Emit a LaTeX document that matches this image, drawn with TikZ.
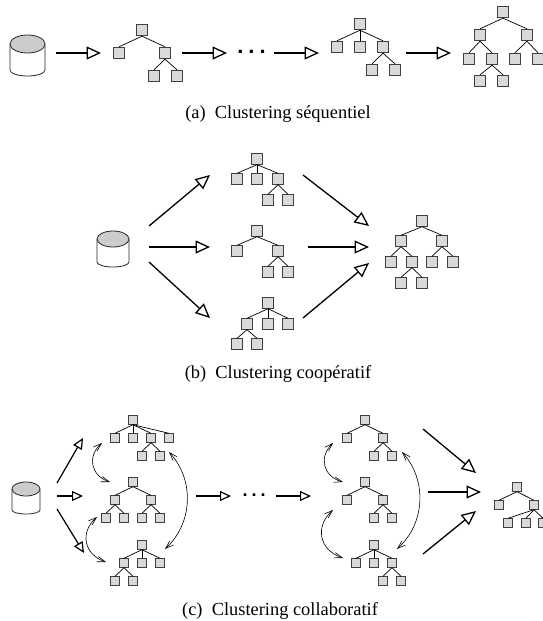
\documentclass[tikz,border=0pt]{standalone}
\usepackage{fontspec}
\setmainfont{Liberation Serif}
\newfontfamily\dotfont{Liberation Sans}
\usetikzlibrary{arrows.meta}
\tikzset{
	drum/.style={draw=black!85, line width=0.8pt},
	boxa/.style={rectangle, draw=black!75, fill=black!15, line width=0.9pt, inner sep=0pt, minimum size=11.5pt},
	boxb/.style={boxa, minimum size=10.5pt},
	boxc/.style={boxa, minimum size=8.5pt},
	branch/.style={line width=0.7pt},
	flow/.style={-{Triangle[open, fill=white, length=14.5pt, width=13pt, line width=1.3pt]}, line width=1.3pt},
	flowc/.style={-{Triangle[open, fill=white, length=11pt, width=10pt, line width=1.2pt]}, line width=1.2pt},
	link/.style={{Straight Barb[length=8pt, width=5.5pt]}-{Straight Barb[length=8pt, width=5.5pt]}, line width=0.6pt},
	caption/.style={font=\fontsize{18.4}{20}\selectfont, anchor=base}
}
\begin{document}
\begin{tikzpicture}[x=1pt, y=-1pt]
	\useasboundingbox (0,0) rectangle (543,621);
	\clip (0,0) rectangle (543,621);
	% the three data bases
	\foreach \n/\x/\y/\rx/\ry/\h/\b in {baseA/27.5/44/17.5/9/26/6, baseB/113/239/16/8/23/5, baseC/26/489/14/7/21/4}{
		\coordinate (\n) at (\x,\y);
		\draw [drum, fill=white] ({\x-\rx},\y) -- ++(0,\h) arc[start angle=180, end angle=0, x radius=\rx, y radius=\b] -- ({\x+\rx},\y);
		\draw [drum, fill=black!20] (\n) ellipse[x radius=\rx, y radius=\ry];
	}
	% (a) sequentiel
	\foreach \n/\x/\y in {a11/142/30, a12/119/53, a13/165/53, a14/154/76, a15/177/76,
			a21/360/24, a22/337/47, a23/360/47, a24/383/47, a25/372/70, a26/395/70,
			a31/503/12, a32/480/35, a33/527/35, a34/469/59, a35/492/59, a36/515/59, a37/538/59, a38/480/81, a39/503/81}
		\node [boxa] (\n) at (\x,\y) {};
	\foreach \a/\b in {a11/a12, a11/a13, a13/a14, a13/a15,
			a21/a22, a21/a23, a21/a24, a24/a25, a24/a26,
			a31/a32, a31/a33, a32/a34, a32/a35, a33/a36, a33/a37, a35/a38, a35/a39}
		\draw [branch] (\a.south) -- (\b.north);
	\foreach \n/\x/\y in {s1/56/53, e1/101/53, s2/182/53, e2/227/53, s3/274/53, e3/319/53, s4/406/53, e4/451/53}
		\coordinate (\n) at (\x,\y);
	\path [flow]
		(s1) edge (e1)
		(s2) edge (e2)
		(s3) edge (e3)
		(s4) edge (e4);
	\node [font=\dotfont\bfseries\fontsize{22}{22}\selectfont, anchor=base] (dotsA) at (251.5,53) {.\hspace{5pt}.\hspace{5pt}.};
	\node [caption] (capA) at (278,118) {(a)~~Clustering séquentiel};
	% (b) cooperatif
	\foreach \n/\x/\y in {b11/257/159, b12/237/179, b13/257/179, b14/278/179, b15/268/200, b16/288/200,
			b21/257/231, b22/237/251, b23/278/251, b24/268/272, b25/288/272,
			b31/268/303, b32/247/324, b33/268/324, b34/288/324, b35/237/344, b36/257/344,
			b41/422/221, b42/401/241, b43/442/241, b44/391/262, b45/412/262, b46/432/262, b47/453/262, b48/401/283, b49/422/283}
		\node [boxb] (\n) at (\x,\y) {};
	\foreach \a/\b in {b11/b12, b11/b13, b11/b14, b14/b15, b14/b16,
			b21/b22, b21/b23, b23/b24, b23/b25,
			b31/b32, b31/b33, b31/b34, b32/b35, b32/b36,
			b41/b42, b41/b43, b42/b44, b42/b45, b43/b46, b43/b47, b45/b48, b45/b49}
		\draw [branch] (\a.south) -- (\b.north);
	\foreach \n/\x/\y in {t1/149/226, f1/210/175, t2/149/247, f2/210/247, t3/149/262, f3/210/318,
			t4/303/175, f4/369/226, t5/308/247, f5/369/247, t6/303/318, f6/369/263}
		\coordinate (\n) at (\x,\y);
	\path [flow]
		(t1) edge (f1)
		(t2) edge (f2)
		(t3) edge (f3)
		(t4) edge (f4)
		(t5) edge (f5)
		(t6) edge (f6);
	\node [caption] (capB) at (278,378) {(b)~~Clustering coopératif};
	% (c) collaboratif
	\foreach \n/\x/\y in {c11/133/420, c12/115/438, c13/133/438, c14/151/438, c15/169/438, c16/142/456, c17/160/456,
			c21/133/482, c22/115/500, c23/151/500, c24/106/518, c25/124/518, c26/142/518, c27/160/518,
			c31/142/545, c32/124/563, c33/142/563, c34/160/563, c35/115/581, c36/133/581,
			c41/365/420, c42/347/438, c43/383/438, c44/374/456, c45/392/456,
			c51/365/482, c52/347/500, c53/383/500, c54/374/518, c55/392/518,
			c61/374/545, c62/356/563, c63/374/563, c64/392/563, c65/383/581, c66/401/581,
			c71/517/487, c72/499/505, c73/534/505, c74/508/523, c75/526/523, c76/543/523}
		\node [boxc] (\n) at (\x,\y) {};
	\foreach \a/\b in {c11/c12, c11/c13, c11/c14, c11/c15, c14/c16, c14/c17,
			c21/c22, c21/c23, c22/c24, c22/c25, c23/c26, c23/c27,
			c31/c32, c31/c33, c31/c34, c32/c35, c32/c36,
			c41/c42, c41/c43, c43/c44, c43/c45,
			c51/c52, c51/c53, c53/c54, c53/c55,
			c61/c62, c61/c63, c61/c64, c64/c65, c64/c66,
			c71/c72, c71/c73, c73/c74, c73/c75, c73/c76}
		\draw [branch] (\a.south) -- (\b.north);
	\foreach \n/\x/\y in {u1/57/483, g1/83/438, u2/57/496, g2/83/496, u3/57/509, g3/84/553,
			u4/196/496, g4/231/496, u5/276/496, g5/311/496,
			u6/423/429, g6/476/473, u7/428/492, g7/481/492, u8/423/554, g8/476/511,
			l1/102/443, m1/110/482, l2/97/517, m2/106/562, l3/169/452, m3/165/549,
			l4/333/443, m4/343/482, l5/333/510, m5/343/558, l6/402/452, m6/397/549}
		\coordinate (\n) at (\x,\y);
	\path [flowc]
		(u1) edge (g1)
		(u2) edge (g2)
		(u3) edge (g3)
		(u4) edge (g4)
		(u5) edge (g5);
	\path [flow]
		(u6) edge (g6)
		(u7) edge (g7)
		(u8) edge (g8);
	\path [link]
		(l1) edge[bend right=60, looseness=1.3] (m1)
		(l2) edge[bend right=60, looseness=1.3] (m2)
		(l3) edge[bend left=45, looseness=1] (m3)
		(l4) edge[bend right=60, looseness=1.3] (m4)
		(l5) edge[bend right=60, looseness=1.3] (m5)
		(l6) edge[bend left=45, looseness=1] (m6);
	\node [font=\dotfont\bfseries\fontsize{18}{18}\selectfont, anchor=base] (dotsC) at (254,496) {.\hspace{4pt}.\hspace{4pt}.};
	\node [caption] (capC) at (280,615) {(c)~~Clustering collaboratif};
\end{tikzpicture}
\end{document}
